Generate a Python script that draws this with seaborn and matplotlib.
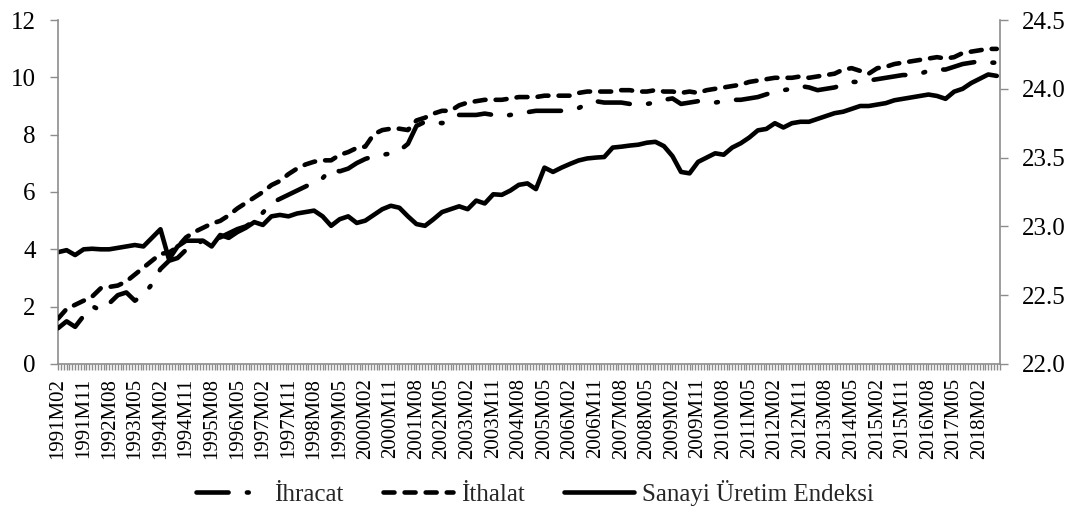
import numpy as np
import pandas as pd
import seaborn as sns
import matplotlib
matplotlib.use("Agg")
import matplotlib.pyplot as plt
from matplotlib.ticker import FixedLocator, MultipleLocator, FormatStrFormatter

# aylik seri 1991M02 - 2018M09, degerler grafikten her 3 ayda bir okundu
ay_sayisi = 332
ay_adim = 3

# sag eksen (22.0 - 24.5)
ihracat = [22.26, 22.31, 22.27, 22.35, 22.42, 22.39, 22.44, 22.50, 22.52, 22.46,
           22.50, 22.58, 22.69, 22.75, 22.77, 22.83, 22.86, 22.90, 22.90, 22.92,
           22.95, 22.98, 23.00, 23.04, 23.10, 23.17, 23.20, 23.23, 23.26, 23.29,
           23.32, 23.35, 23.42, 23.40, 23.42, 23.46, 23.49, 23.51, 23.52, 23.53,
           23.55, 23.60, 23.73, 23.76, 23.76, 23.75, 23.78, 23.81, 23.81, 23.81,
           23.82, 23.81, 23.80, 23.81, 23.82, 23.83, 23.84, 23.84, 23.84, 23.84,
           23.85, 23.86, 23.89, 23.91, 23.90, 23.90, 23.90, 23.89, 23.89, 23.89,
           23.90, 23.92, 23.93, 23.89, 23.90, 23.91, 23.91, 23.90, 23.91, 23.92,
           23.92, 23.93, 23.94, 23.96, 23.98, 23.99, 24.00, 24.02, 24.01, 23.99,
           24.00, 24.01, 24.03, 24.05, 24.05, 24.06, 24.07, 24.08, 24.09, 24.10,
           24.10, 24.11, 24.13, 24.14, 24.14, 24.16, 24.18, 24.19, 24.20, 24.19,
           24.19]

ithalat = [22.33, 22.40, 22.43, 22.46, 22.49, 22.55, 22.56, 22.57, 22.60, 22.65,
           22.70, 22.75, 22.80, 22.81, 22.85, 22.92, 22.96, 22.99, 23.02, 23.04,
           23.08, 23.13, 23.17, 23.21, 23.25, 23.30, 23.33, 23.38, 23.42, 23.45,
           23.47, 23.48, 23.48, 23.52, 23.54, 23.57, 23.58, 23.67, 23.70, 23.71,
           23.71, 23.70, 23.77, 23.79, 23.82, 23.84, 23.84, 23.88, 23.90, 23.91,
           23.92, 23.92, 23.92, 23.93, 23.94, 23.94, 23.94, 23.95, 23.95, 23.95,
           23.95, 23.97, 23.98, 23.98, 23.98, 23.98, 23.99, 23.99, 23.98, 23.98,
           23.99, 23.98, 23.98, 23.97, 23.98, 23.97, 23.99, 24.00, 24.01, 24.02,
           24.03, 24.05, 24.06, 24.07, 24.08, 24.08, 24.08, 24.09, 24.08, 24.09,
           24.10, 24.11, 24.14, 24.15, 24.13, 24.11, 24.15, 24.16, 24.18, 24.19,
           24.20, 24.21, 24.22, 24.23, 24.22, 24.23, 24.26, 24.27, 24.28, 24.29,
           24.29]

# sol eksen (0 - 12)
sanayi = [3.90, 3.97, 3.80, 4.00, 4.02, 4.00, 4.00, 4.05, 4.10, 4.15,
          4.10, 4.40, 4.70, 3.65, 4.10, 4.30, 4.30, 4.30, 4.10, 4.50,
          4.40, 4.60, 4.75, 4.95, 4.85, 5.15, 5.20, 5.15, 5.25, 5.30,
          5.35, 5.15, 4.82, 5.05, 5.15, 4.92, 5.00, 5.20, 5.40, 5.52,
          5.45, 5.15, 4.88, 4.82, 5.05, 5.30, 5.40, 5.50, 5.40, 5.70,
          5.60, 5.92, 5.90, 6.05, 6.25, 6.30, 6.10, 6.85, 6.70, 6.85,
          6.98, 7.10, 7.17, 7.20, 7.22, 7.55, 7.58, 7.62, 7.65, 7.72,
          7.75, 7.60, 7.25, 6.70, 6.65, 7.05, 7.20, 7.35, 7.30, 7.55,
          7.70, 7.90, 8.15, 8.20, 8.40, 8.25, 8.40, 8.45, 8.45, 8.55,
          8.65, 8.75, 8.80, 8.90, 9.00, 9.00, 9.05, 9.10, 9.20, 9.25,
          9.30, 9.35, 9.40, 9.35, 9.25, 9.50, 9.60, 9.80, 9.95, 10.10,
          10.05]

konum = list(range(0, ay_sayisi, ay_adim))

etiketler = []
for k in range(ay_sayisi):
    yil = 1991 + (k + 1) // 12
    ay = (k + 1) % 12 + 1
    etiketler.append(f"{yil}M{ay:02d}")

sns.set_theme(style="white")
plt.rcParams["font.family"] = ["Liberation Serif", "DejaVu Serif"]
gri = "#8c8c8c"

fig, ax = plt.subplots(figsize=(10.83, 5.13), dpi=100)
fig.subplots_adjust(left=0.0536, right=0.923, top=0.961, bottom=0.2905)
ax2 = ax.twinx()

sns.lineplot(x=konum, y=sanayi, ax=ax, color="black", linewidth=3.3,
             label="Sanayi Üretim Endeksi", legend=False)
sns.lineplot(x=konum, y=ihracat, ax=ax2, color="black", linewidth=3.3,
             label="İhracat", legend=False)
sns.lineplot(x=konum, y=ithalat, ax=ax2, color="black", linewidth=3.3,
             label="İthalat", legend=False)

l_san = ax.lines[0]
l_ihr, l_ith = ax2.lines[0], ax2.lines[1]
l_san.set_solid_capstyle("round")
l_san.set_solid_joinstyle("round")
l_ihr.set_dashes([7, 4, 0.4, 4])
l_ith.set_dashes([2.4, 2.2])
for l in (l_ihr, l_ith):
    l.set_dash_capstyle("round")
    l.set_dash_joinstyle("round")

for a in (ax, ax2):
    if a.get_legend() is not None:
        a.get_legend().remove()

ax.set_xlim(0, ay_sayisi - 1)
ax.set_ylim(0, 12)
ax2.set_ylim(22, 24.5)

ax.xaxis.set_major_locator(FixedLocator(range(0, ay_sayisi, 9)))
ax.xaxis.set_minor_locator(MultipleLocator(1))
ax.set_xticklabels(etiketler[::9], rotation=90, fontsize=15, color="black")
ax.set_yticks(range(0, 13, 2))
ax2.set_yticks(np.arange(22, 24.51, 0.5))
ax2.yaxis.set_major_formatter(FormatStrFormatter("%.1f"))

ax.tick_params(axis="x", which="both", bottom=True, length=4, width=1,
               color=gri, pad=6)
ax.tick_params(axis="y", left=True, length=6, width=1, color=gri,
               labelsize=18, labelcolor="black", pad=10)
ax2.tick_params(axis="y", right=True, length=6, width=1, color=gri,
                labelsize=18, labelcolor="black", pad=10)

ax.spines["top"].set_visible(False)
ax.spines["right"].set_visible(False)
for s in ("left", "bottom"):
    ax.spines[s].set_color(gri)
    ax.spines[s].set_linewidth(1.2)
for s in ("top", "left", "bottom"):
    ax2.spines[s].set_visible(False)
ax2.spines["right"].set_color(gri)
ax2.spines["right"].set_linewidth(1.2)
ax.set_xlabel("")
ax.set_ylabel("")
ax2.set_ylabel("")
ax.grid(False)
ax2.grid(False)

tutamaclar = [l_ihr, l_ith, l_san]
fig.legend(tutamaclar, [h.get_label() for h in tutamaclar], loc="center",
           bbox_to_anchor=(0.494, 0.039), ncol=3, frameon=False, fontsize=18,
           handlelength=2.8, handletextpad=0.3, columnspacing=1.6)

fig.savefig("out.png", dpi=100)
